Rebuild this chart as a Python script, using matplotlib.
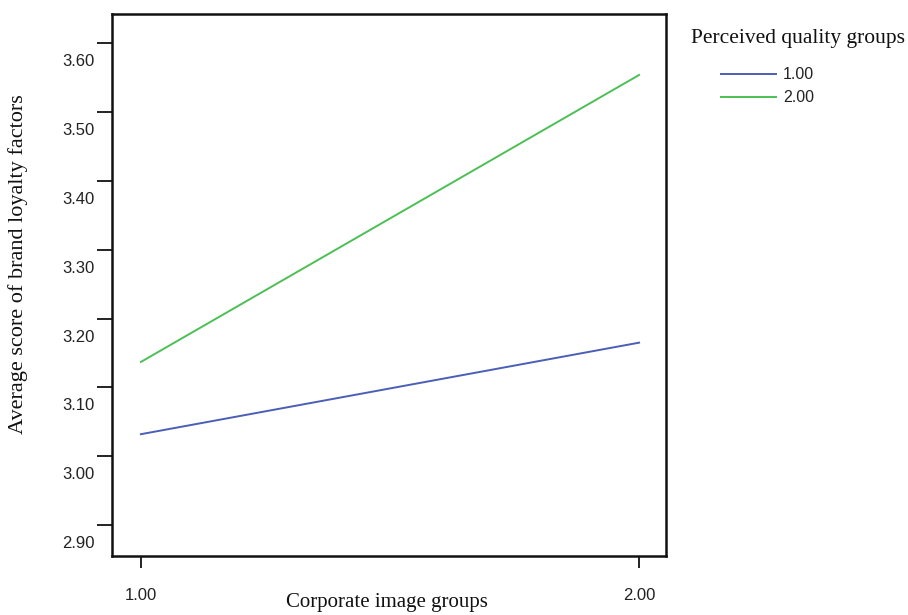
import numpy as np
import matplotlib
matplotlib.use("Agg")
import matplotlib.pyplot as plt
import matplotlib.transforms as mtransforms

# Data
image_groups = [1.0, 2.0]
quality_low = [3.032, 3.165]
quality_high = [3.137, 3.554]
series_labels = ["1.00", "2.00"]
y_ticks = [2.90, 3.00, 3.10, 3.20, 3.30, 3.40, 3.50, 3.60]
x_ticks = [1.0, 2.0]

blue = "#4A5FB5"
green = "#4CBF55"

fig = plt.figure(figsize=(9.08, 6.15), dpi=100)
ax = fig.add_axes([112 / 908, 1 - 556 / 615, (666 - 112) / 908, (556 - 14) / 615])

ax.plot(image_groups, quality_low, color=blue, lw=1.4, label=series_labels[0])
ax.plot(image_groups, quality_high, color=green, lw=1.4, label=series_labels[1])

ax.set_xlim(0.942, 2.054)
ax.set_ylim(2.855, 3.6426)
ax.set_xticks(x_ticks)
ax.set_xticklabels([f"{v:.2f}" for v in x_ticks])
ax.set_yticks(y_ticks)
ax.set_yticklabels([f"{v:.2f}" for v in y_ticks])

for s in ax.spines.values():
    s.set_linewidth(1.8)
    s.set_color("#111111")

ax.tick_params(axis="y", length=10.8, width=1.3, pad=1.5, labelsize=12,
               labelcolor="#222222", color="#111111")
ax.tick_params(axis="x", length=8.6, width=1.3, pad=14.5, labelsize=12,
               labelcolor="#222222", color="#111111")
for lab in ax.get_yticklabels() + ax.get_xticklabels():
    lab.set_family("Liberation Sans")

# SPSS style: y labels sit below their ticks
offset = mtransforms.ScaledTranslation(0, -0.17, fig.dpi_scale_trans)
for lab in ax.get_yticklabels():
    lab.set_transform(lab.get_transform() + offset)

serif = "Liberation Serif"
fig.text(387 / 908, 1 - 602 / 615, "Corporate image groups", ha="center",
         va="center", fontsize=15, family=serif, color="#111111")
fig.text(18 / 908, 1 - 264 / 615, "Average score of brand loyalty factors",
         ha="center", va="center", rotation=90, fontsize=16, family=serif,
         color="#111111")
fig.text(691 / 908, 1 - 38 / 615, "Perceived quality groups", ha="left",
         va="center", fontsize=15.5, family=serif, color="#111111")

leg = fig.legend(loc="upper left", bbox_to_anchor=(715 / 908, 1 - 61 / 615),
                 frameon=False, handlelength=3.4,
                 handletextpad=0.45, labelspacing=0.5, borderaxespad=0,
                 prop={"family": "Liberation Sans", "size": 11.5})
for t in leg.get_texts():
    t.set_color("#222222")

fig.savefig("out.png", dpi=100)
